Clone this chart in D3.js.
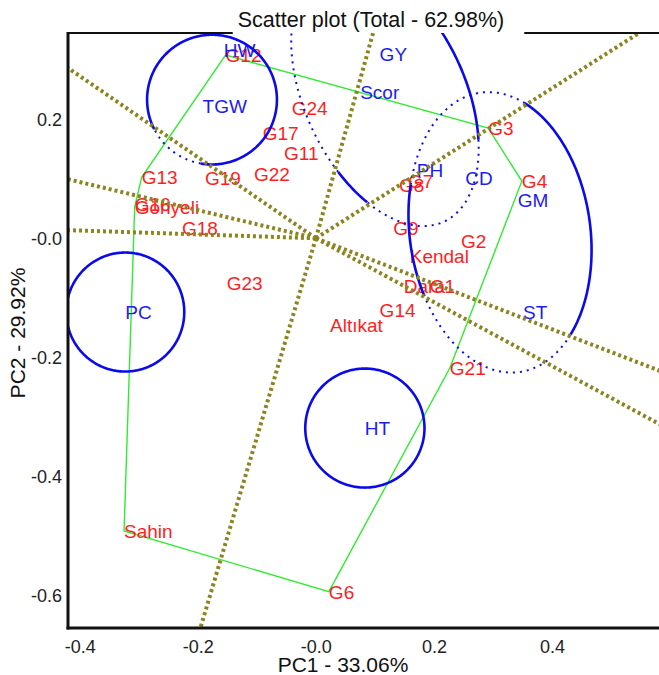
<!DOCTYPE html>
<html>
<head>
<meta charset="utf-8">
<script src="https://cdn.jsdelivr.net/npm/d3@7"></script>
<style>
  body { margin: 0; background: #fff; }
  text { font-family: "Liberation Sans", Arial, sans-serif; }
</style>
</head>
<body>
<div id="chart"></div>
<script>
// genotype scores (red)
var genotypes = ["G12", "G24", "G17", "G11", "G22", "G13", "G19", "G16", "Gönyeli", "G18", "G23",
  "Altıkat", "G14", "Dara", "G1", "Kendal", "G2", "G9", "G8", "G7", "G3", "G4", "G21", "G6", "Sahin"];
var genoPC1 = [-0.153, -0.041, -0.090, -0.054, -0.105, -0.295, -0.188, -0.307, -0.307, -0.227, -0.151,
  0.024, 0.108, 0.149, 0.193, 0.159, 0.246, 0.131, 0.141, 0.156, 0.292, 0.349, 0.227, 0.022, -0.325];
var genoPC2 = [0.308, 0.219, 0.177, 0.143, 0.108, 0.103, 0.101, 0.058, 0.053, 0.017, -0.075,
  -0.146, -0.120, -0.080, -0.080, -0.030, -0.005, 0.017, 0.090, 0.096, 0.185, 0.096, -0.218, -0.594, -0.492];

// trait scores (blue)
var traits = ["HW", "TGW", "GY", "Scor", "PH", "CD", "GM", "ST", "PC", "HT"];
var traitPC1 = [-0.156, -0.192, 0.108, 0.075, 0.171, 0.253, 0.342, 0.351, -0.323, 0.083];
var traitPC2 = [0.316, 0.222, 0.310, 0.246, 0.115, 0.101, 0.064, -0.125, -0.124, -0.319];

// polygon of the outermost genotypes
var hullOrder = ["G12", "G3", "G4", "G21", "G6", "Sahin", "Gönyeli", "G13"];

// trait regions: centre, radii (PC units), tilt in degrees, dotted parts as angle ranges
var regionCx = [-0.176, 0.117, 0.312, -0.323, 0.083];
var regionCy = [0.233, 0.241, 0.010, -0.124, -0.319];
var regionRx = [0.110, 0.136, 0.153, 0.100, 0.101];
var regionRy = [0.109, 0.235, 0.237, 0.100, 0.100];
var regionTilt = [0, 25, 8, 0, 0];
var regionDotted = [[[100, 153]], [[35, 140], [159, 240]], [[52, 158], [205, 298]], [], []];

var xTicks = [-0.4, -0.2, 0, 0.2, 0.4];
var xTickLabels = ["-0.4", "-0.2", "-0.0", "0.2", "0.4"];
var yTicks = [0.2, 0, -0.2, -0.4, -0.6];
var yTickLabels = ["0.2", "-0.0", "-0.2", "-0.4", "-0.6"];

var W = 659, H = 675;
var pLeft = 68, pRight = 670, pTop = 33, pBottom = 628;

var svg = d3.select("#chart").append("svg")
  .attr("width", W).attr("height", H);

var x = d3.scaleLinear().domain([-0.42, 0.6]).range([pLeft, pRight]);
var y = d3.scaleLinear().domain([-0.655, 0.345]).range([pBottom, pTop]);

svg.append("defs").append("clipPath").attr("id", "plotclip")
  .append("rect").attr("x", pLeft).attr("y", pTop)
  .attr("width", pRight - pLeft).attr("height", pBottom - pTop);

var plot = svg.append("g").attr("clip-path", "url(#plotclip)");

var idx = {};
genotypes.forEach(function(g, i) { idx[g] = i; });

// convex hull
var hullPts = hullOrder.map(function(g) { return [x(genoPC1[idx[g]]), y(genoPC2[idx[g]])]; });
plot.append("path")
  .attr("d", d3.line().curve(d3.curveLinearClosed)(hullPts))
  .attr("fill", "none")
  .attr("stroke", "#30ec30")
  .attr("stroke-width", 1.4);

// genotype labels
plot.selectAll("text.geno").data(genotypes).enter().append("text")
  .attr("class", "geno")
  .attr("x", function(d, i) { return x(genoPC1[i]); })
  .attr("y", function(d, i) { return y(genoPC2[i]); })
  .attr("dy", "0.36em")
  .attr("font-size", 19)
  .attr("fill", "#ff1e1e")
  .text(function(d) { return d; });

// trait labels
plot.selectAll("text.trait").data(traits).enter().append("text")
  .attr("class", "trait")
  .attr("x", function(d, i) { return x(traitPC1[i]); })
  .attr("y", function(d, i) { return y(traitPC2[i]); })
  .attr("dy", "0.36em")
  .attr("font-size", 19)
  .attr("fill", "#1c1cf0")
  .text(function(d) { return d; });

// trait regions, drawn piece by piece so some parts are dotted
var kx = x(1) - x(0), ky = y(0) - y(1);
function ellipsePoints(i, t0, t1) {
  var cx = x(regionCx[i]), cy = y(regionCy[i]);
  var a = regionRx[i] * kx, b = regionRy[i] * ky;
  var th = regionTilt[i] * Math.PI / 180;
  var pts = [];
  for (var t = t0; t <= t1 + 0.001; t += 1) {
    var r = t * Math.PI / 180;
    var ex = a * Math.cos(r), ey = b * Math.sin(r);
    pts.push([cx + ex * Math.cos(th) + ey * Math.sin(th), cy - ex * Math.sin(th) + ey * Math.cos(th)]);
  }
  return pts;
}
regionCx.forEach(function(c, i) {
  var dots = regionDotted[i];
  var pieces = [];
  var start = dots.length ? dots[dots.length - 1][1] - 360 : 0;
  if (!dots.length) pieces.push([0, 360, false]);
  dots.forEach(function(dr) {
    pieces.push([start, dr[0], false]);
    pieces.push([dr[0], dr[1], true]);
    start = dr[1];
  });
  pieces.forEach(function(p) {
    plot.append("path")
      .attr("d", d3.line()(ellipsePoints(i, p[0], p[1])))
      .attr("fill", "none")
      .attr("stroke", "#0a0aea")
      .attr("stroke-width", p[2] ? 2 : 2.6)
      .attr("stroke-dasharray", p[2] ? "2,5" : null);
  });
});

// rays from the origin, perpendicular to each polygon side
var ox = x(0), oy = y(0);
hullPts.forEach(function(p1, i) {
  var p2 = hullPts[(i + 1) % hullPts.length];
  var nx = p2[1] - p1[1], ny = -(p2[0] - p1[0]);
  if (nx * (p1[0] - ox) + ny * (p1[1] - oy) < 0) { nx = -nx; ny = -ny; }
  var len = Math.sqrt(nx * nx + ny * ny);
  plot.append("line")
    .attr("x1", ox).attr("y1", oy)
    .attr("x2", ox + nx / len * 1200).attr("y2", oy + ny / len * 1200)
    .attr("stroke", "#8c8420")
    .attr("stroke-width", 4)
    .attr("stroke-dasharray", "3,3");
});

// axes
svg.append("g")
  .attr("transform", "translate(0," + pBottom + ")")
  .call(d3.axisBottom(x).tickValues(xTicks).tickSize(0).tickPadding(12)
    .tickFormat(function(d, i) { return xTickLabels[i]; }))
  .call(function(g) { g.select(".domain").remove(); })
  .selectAll("text").attr("font-size", 18).attr("fill", "#222")
  .attr("font-family", "Liberation Sans, Arial, sans-serif");

svg.append("g")
  .attr("transform", "translate(" + pLeft + ",0)")
  .call(d3.axisLeft(y).tickValues(yTicks).tickSize(0).tickPadding(6)
    .tickFormat(function(d, i) { return yTickLabels[i]; }))
  .call(function(g) { g.select(".domain").remove(); })
  .selectAll("text").attr("font-size", 18).attr("fill", "#222")
  .attr("font-family", "Liberation Sans, Arial, sans-serif");

// title, with a gap in the top border
var title = svg.append("text")
  .attr("x", 371).attr("y", 27)
  .attr("text-anchor", "middle")
  .attr("font-size", 21.5)
  .attr("fill", "#111")
  .text("Scatter plot (Total - 62.98%)");
var tb = title.node().getBBox();

var frame = svg.append("g").attr("stroke", "#111").attr("fill", "none");
frame.append("line").attr("x1", pLeft).attr("y1", pTop).attr("x2", tb.x - 5).attr("y2", pTop).attr("stroke-width", 2.2);
frame.append("line").attr("x1", tb.x + tb.width + 20).attr("y1", pTop).attr("x2", pRight).attr("y2", pTop).attr("stroke-width", 2.2);
frame.append("line").attr("x1", pLeft).attr("y1", pTop - 1).attr("x2", pLeft).attr("y2", pBottom + 1.5).attr("stroke-width", 3);
frame.append("line").attr("x1", pLeft - 1.5).attr("y1", pBottom).attr("x2", pRight).attr("y2", pBottom).attr("stroke-width", 3);

svg.append("text")
  .attr("x", 343).attr("y", 672)
  .attr("text-anchor", "middle")
  .attr("font-size", 21)
  .attr("fill", "#111")
  .text("PC1 - 33.06%");

svg.append("text")
  .attr("transform", "translate(25,333) rotate(-90)")
  .attr("text-anchor", "middle")
  .attr("font-size", 21)
  .attr("fill", "#111")
  .text("PC2 - 29.92%");
</script>
</body>
</html>
